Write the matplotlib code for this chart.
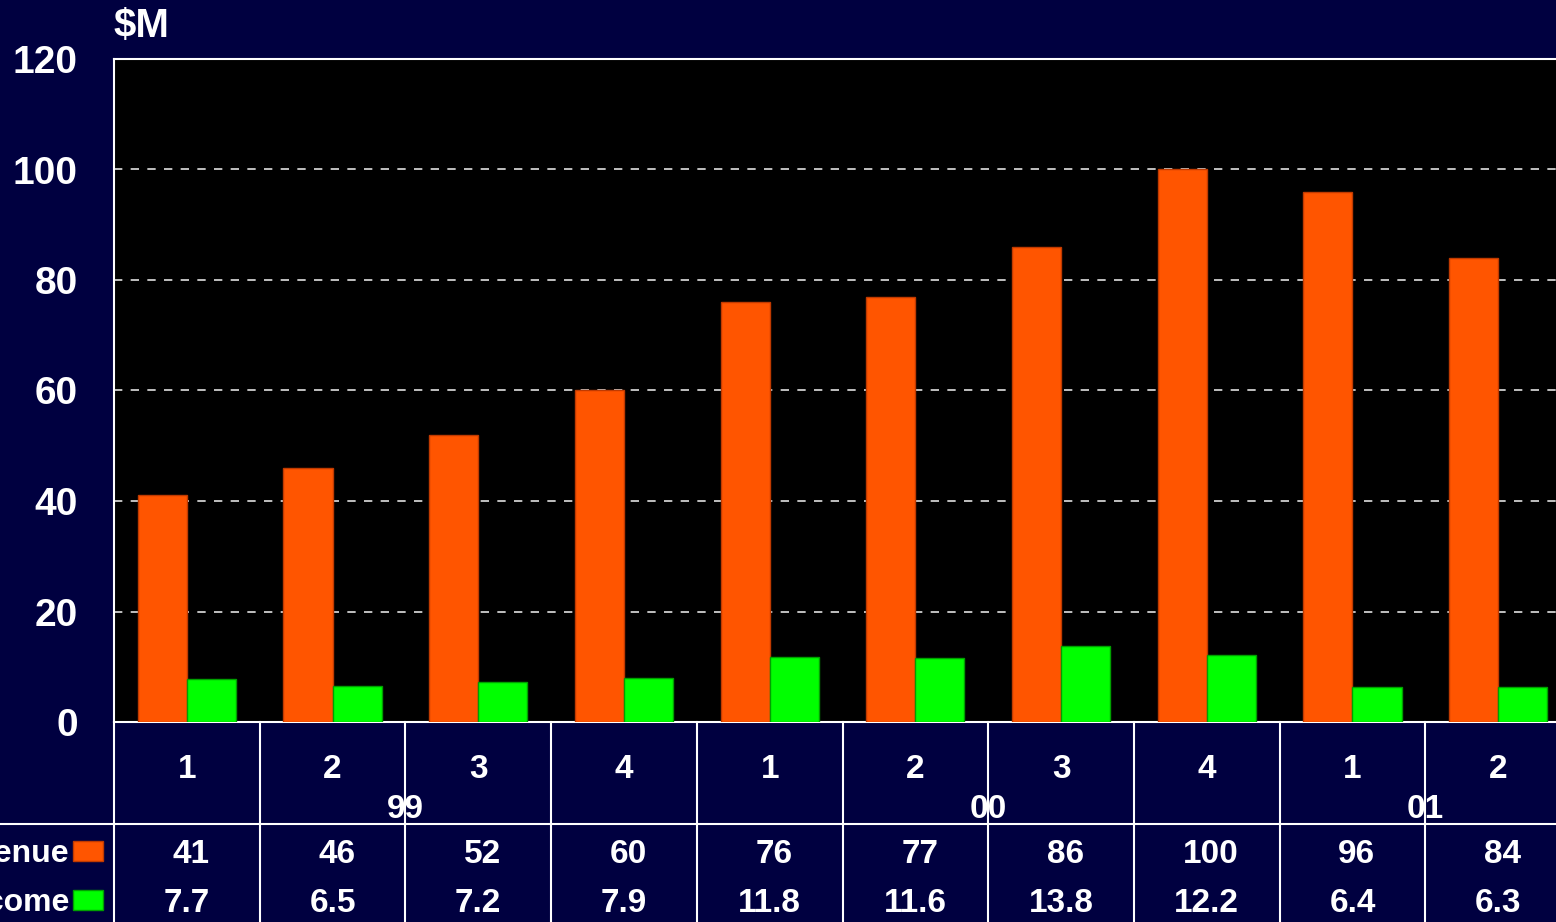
import matplotlib
matplotlib.use('Agg')
import matplotlib.pyplot as plt
from matplotlib.patches import Rectangle
from matplotlib.lines import Line2D
import matplotlib.transforms as mtransforms

plt.rcParams['font.family'] = ['Liberation Sans', 'DejaVu Sans']
plt.rcParams['font.weight'] = 'bold'

# data
quarters = ['1', '2', '3', '4', '1', '2', '3', '4', '1', '2']
years = ['99', '00', '01']
year_spans = [(0, 4), (4, 8), (8, 10)]
revenue = [41, 46, 52, 60, 76, 77, 86, 100, 96, 84]
net_income = [7.7, 6.5, 7.2, 7.9, 11.8, 11.6, 13.8, 12.2, 6.4, 6.3]
revenue_labels = ['41', '46', '52', '60', '76', '77', '86', '100', '96', '84']
income_labels = ['7.7', '6.5', '7.2', '7.9', '11.8', '11.6', '13.8', '12.2', '6.4', '6.3']

BG = '#000040'
ORANGE = '#FF5500'
GREEN = '#00FF00'
W, H = 1556, 922

fig = plt.figure(figsize=(W / 100, H / 100), dpi=100, facecolor=BG)
ax = fig.add_axes([114 / W, 200 / H, (1571 - 114) / W, 663 / H])
ax.set_facecolor('black')

n = len(revenue)
xs = [i + 0.5 for i in range(n)]
bw = 0.337
ax.bar([x - bw / 2 for x in xs], revenue, width=bw, color=ORANGE,
       edgecolor='#C03A00', linewidth=1, zorder=3)
ax.bar([x + bw / 2 for x in xs], net_income, width=bw, color=GREEN,
       edgecolor='#00A000', linewidth=1, zorder=3)

ax.set_xlim(0, n)
ax.set_ylim(0, 120)
ax.set_yticks(range(0, 121, 20))
ax.set_xticks([])
ax.tick_params(axis='y', length=0, pad=26, labelsize=28, labelcolor='white')
for lbl in ax.get_yticklabels():
    lbl.set_fontweight('bold')
ax.yaxis.grid(True, color='#E0E0E0', linestyle=(0, (5, 5)), linewidth=1.2, zorder=1)
for s in ['top', 'left', 'bottom']:
    ax.spines[s].set_color('white')
    ax.spines[s].set_linewidth(1.5)
ax.spines['right'].set_visible(False)

fig.text(114 / W, 1 - 26 / H, '$M', color='white', fontsize=29,
         fontweight='bold', ha='left', va='center')

# data table below the axes
trans = mtransforms.blended_transform_factory(ax.transData, fig.transFigure)
bottom = 200 / H
for i in range(n + 1):
    ax.add_line(Line2D([i, i], [0, bottom], transform=trans, color='white',
                       linewidth=1.5, clip_on=False))
fig.add_artist(Line2D([0, 1], [1 - 824 / H, 1 - 824 / H], color='white', linewidth=1.5))

fs = 24
for x, q in zip(xs, quarters):
    ax.text(x, 1 - 769 / H, q, transform=trans, color='white', fontsize=fs,
            fontweight='bold', ha='center', va='center')
for y, (a, b) in zip(years, year_spans):
    ax.text((a + b) / 2, 1 - 809 / H, y, transform=trans, color='white',
            fontsize=fs, fontweight='bold', ha='center', va='center')
for x, r, ni in zip(xs, revenue_labels, income_labels):
    ax.text(x + 0.03, 1 - 854 / H, r, transform=trans, color='white', fontsize=fs,
            fontweight='bold', ha='center', va='center')
    ax.text(x, 1 - 903 / H, ni, transform=trans, color='white', fontsize=fs,
            fontweight='bold', ha='center', va='center')

# row labels (cut off at the left edge, as in the original slide)
for label, color, edge, yc in [('Revenue', ORANGE, '#C03A00', 851),
                               ('Net Income', GREEN, '#00A000', 900)]:
    fig.text(69 / W, 1 - (yc + 3) / H, label, color='white', fontsize=23,
             fontweight='bold', ha='right', va='center')
    fig.add_artist(Rectangle((73 / W, 1 - (yc + 10) / H), 30 / W, 20 / H,
                             facecolor=color, edgecolor=edge, linewidth=1,
                             transform=fig.transFigure))

fig.savefig('out.png', dpi=100, facecolor=BG)
